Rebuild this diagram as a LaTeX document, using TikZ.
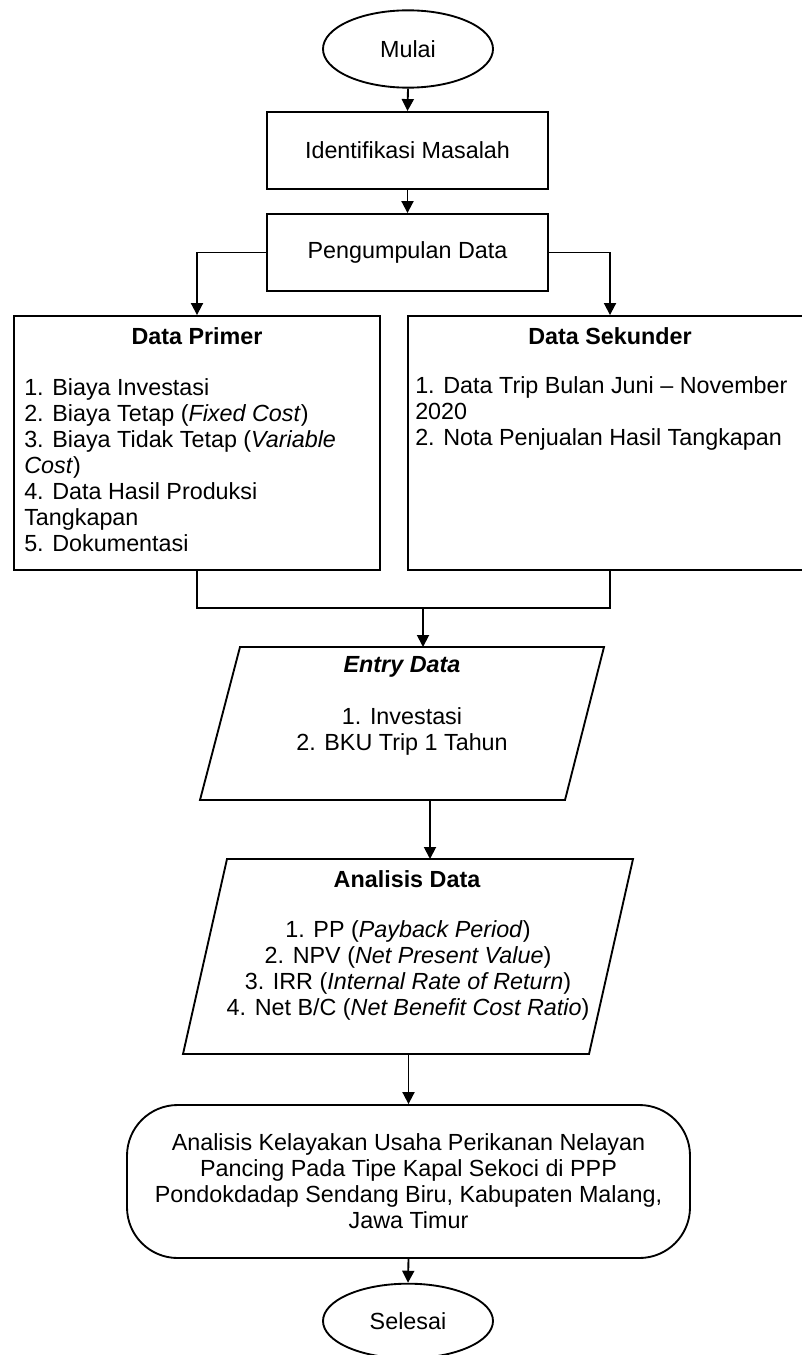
\documentclass[tikz,border=0pt]{standalone}
\usepackage{fontspec}
\setmainfont{Liberation Sans}
\usetikzlibrary{shapes.geometric,arrows.meta}
\begin{document}
\begin{tikzpicture}[x=0.75pt,y=-0.75pt,
  every node/.style={font=\fontsize{17.5}{19.5}\selectfont},
  line/.style={line width=1.4pt},
  arr/.style={line width=1.4pt,-{Triangle[length=9pt,width=9pt]}},
  term/.style={ellipse,draw,line width=1.4pt,minimum width=127.5pt,minimum height=58pt,inner sep=0pt},
  procbox/.style={rectangle,draw,line width=1.4pt,minimum width=210.75pt,minimum height=57.75pt,inner sep=0pt},
  txt/.style={inner sep=0pt}]
\useasboundingbox (0,0) rectangle (802,1355);
\fill[white] (0,0) rectangle (802,1355);

% terminals and process boxes
\node[term] (mulai) at (408,49) {Mulai};
\node[procbox] (ident) at (407.5,150.5) {Identifikasi Masalah};
\node[procbox] (peng) at (407.5,252.5) {Pengumpulan Data};

% data boxes
\node[rectangle,draw,line width=1.4pt,minimum width=274.5pt,minimum height=190.5pt,inner sep=0pt] (primer) at (197,443) {};
\node[rectangle,draw,line width=1.4pt,minimum width=316.5pt,minimum height=190.5pt,inner sep=0pt] (sekunder) at (619,443) {};
\node[txt,font=\fontsize{17.5}{19.5}\selectfont\bfseries] (primerT) at (197,336) {Data Primer};
\node[txt,font=\fontsize{17.5}{19.5}\selectfont\bfseries] (sekunderT) at (610,336) {Data Sekunder};
\node[txt,anchor=west,align=left] (primerL) at (24,465) {1. Biaya Investasi\\2. Biaya Tetap (\textit{Fixed Cost})\\3. Biaya Tidak Tetap (\textit{Variable}\\\textit{Cost})\\4. Data Hasil Produksi\\Tangkapan\\5. Dokumentasi};
\node[txt,anchor=west,align=left] (sekunderL) at (415,413) {1. Data Trip Bulan Juni -- November\\2020\\2. Nota Penjualan Hasil Tangkapan};

% entry data parallelogram
\coordinate (e1) at (240,647);
\coordinate (e2) at (604,647);
\coordinate (e3) at (565,800);
\coordinate (e4) at (200,800);
\draw[line,line join=miter] (e1) -- (e2) -- (e3) -- (e4) -- cycle;
\coordinate (entryTop) at (423,647);
\coordinate (entryBot) at (430,800);
\node[txt,font=\fontsize{17.5}{19.5}\selectfont\bfseries\itshape] (entryT) at (402,667) {Entry Data};
\node[txt,align=center] (entryL) at (402,731) {1. Investasi\\2. BKU Trip 1 Tahun};

% analisis data parallelogram
\coordinate (a1) at (227,859);
\coordinate (a2) at (633,859);
\coordinate (a3) at (589,1054);
\coordinate (a4) at (183,1054);
\draw[line,line join=miter] (a1) -- (a2) -- (a3) -- (a4) -- cycle;
\coordinate (anaTop) at (430,859);
\coordinate (anaBot) at (408.5,1054);
\node[txt,font=\fontsize{17.5}{19.5}\selectfont\bfseries] (anaT) at (407,879) {Analisis Data};
\node[txt,align=center] (anaL) at (408,970) {1. PP (\textit{Payback Period})\\2. NPV (\textit{Net Present Value})\\3. IRR (\textit{Internal Rate of Return})\\4. Net B/C (\textit{Net Benefit Cost Ratio})};

% result
\node[rectangle,rounded corners=38pt,draw,line width=1.4pt,minimum width=422.25pt,minimum height=114.75pt,inner sep=0pt,align=center] (hasil) at (408.5,1181.5) {Analisis Kelayakan Usaha Perikanan Nelayan\\Pancing Pada Tipe Kapal Sekoci di PPP\\Pondokdadap Sendang Biru, Kabupaten Malang,\\Jawa Timur};
\node[term,minimum height=56pt] (selesai) at (408,1321) {Selesai};

% connectors
\draw[arr] (mulai.south) -- (ident.north);
\draw[arr] (ident.south) -- (peng.north);
\draw[arr] (peng.west) -| (primer.north);
\draw[arr] (peng.east) -| (sekunderT |- sekunder.north);
\coordinate (jl) at (197,608);
\coordinate (jr) at (610,608);
\coordinate (jm) at (423,608);
\draw[line] (primer.south) -- (jl) -- (jr) -- (sekunderT |- sekunder.south);
\draw[arr] (jm) -- (entryTop);
\draw[arr] (entryBot) -- (anaTop);
\draw[arr] (anaBot) -- (hasil.north);
\draw[arr] (hasil.south) -- (selesai.north);
\end{tikzpicture}
\end{document}
